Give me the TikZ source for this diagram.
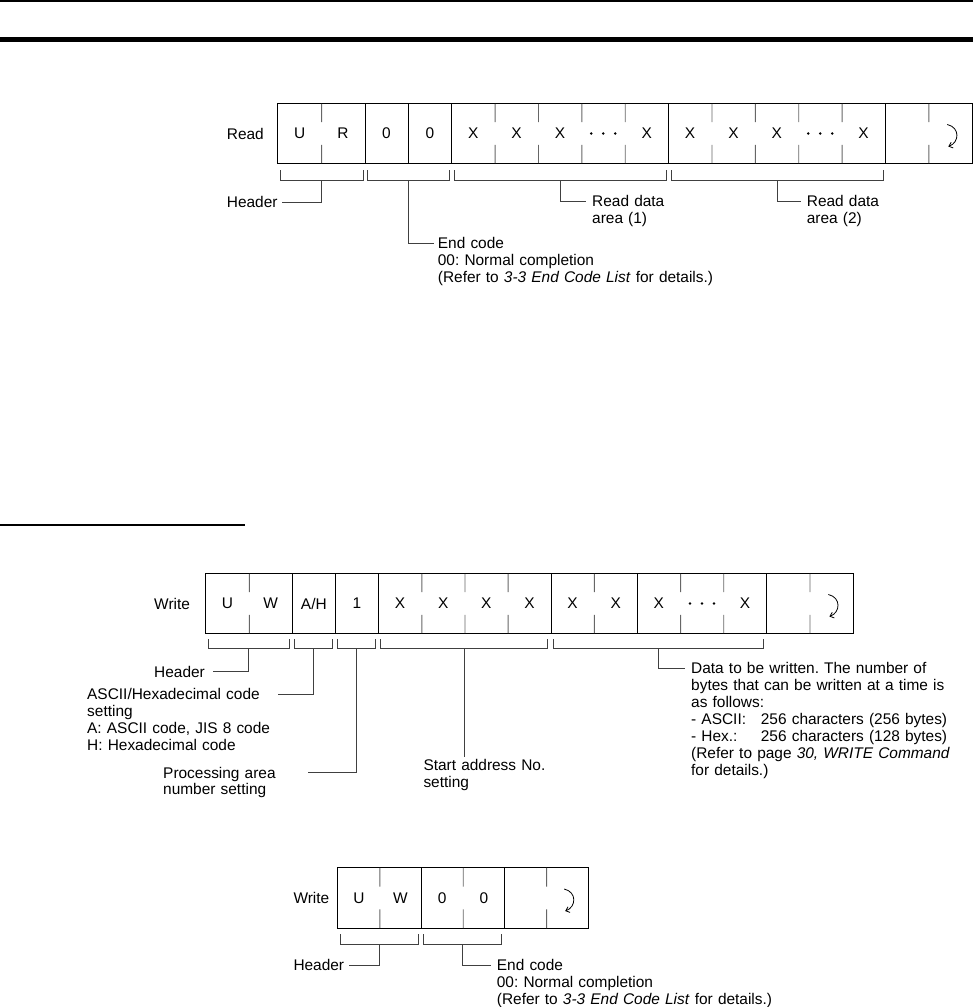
\documentclass[tikz,border=0pt]{standalone}
\usepackage{fontspec}
\setmainfont{Liberation Sans}
\usetikzlibrary{calc,arrows.meta}
\frenchspacing
\newcommand{\mybracket}[7]{%
  % #1 left cell, #2 right cell, #3 mid coordinate name, #4 top offset, #5 bottom offset, #6 left inset, #7 right inset
  \draw[brk] ($(#1.south west)+(#6,#4)$) -- ($(#1.south west)+(#6,#5)$) -- ($(#2.south east)+(-#7,#5)$) -- ($(#2.south east)+(-#7,#4)$);
  \coordinate (#3) at ($($(#1.south west)+(#6,#5)$)!0.5!($(#2.south east)+(-#7,#5)$)$);
}
\newcommand{\celldots}[1]{%
  \fill ($(#1.center)+(-12,0)$) circle (1.4bp);
  \fill (#1.center) circle (1.4bp);
  \fill ($(#1.center)+(12,0)$) circle (1.4bp);
}
\newcommand{\retsym}[1]{%
  \draw[retarrow] ($(#1.center)+(-3,-9)$) .. controls ($(#1.center)+(10,-6)$) and ($(#1.center)+(9,9)$) .. ($(#1.center)+(-2,13)$);
}
\begin{document}
\begin{tikzpicture}[x=1bp,y=-1bp,
  cellr/.style={minimum width=43.375bp,minimum height=59bp,inner sep=0pt,font=\fontsize{15.5}{17}\selectfont},
  cellw/.style={cellr,minimum width=43.13bp},
  cellb/.style={cellr,minimum width=41.67bp,minimum height=60bp},
  frame/.style={draw=black,line width=0.9bp},
  full/.style={draw=black,line width=0.9bp},
  part/.style={draw=black!60,line width=0.9bp},
  brk/.style={draw=black!75,line width=0.8bp},
  lbl/.style={inner sep=0pt,font=\fontsize{15.5}{17}\selectfont},
  blk/.style={lbl,text width=320bp,align=left},
  retarrow/.style={draw=black,line width=0.8bp,-{Straight Barb[length=3.5bp,width=6bp]}}
]
\useasboundingbox (0,0) rectangle (973,1007);

% page rules
\draw[line width=2bp] (0,1) -- (973,1);
\draw[line width=5bp] (0,39) -- (973,39);
\draw[line width=1.2bp] (0,525) -- (245,525);

% ================= READ frame =================
\foreach \t [count=\i] in {U,R,0,0,X,X,X,{},X,X,X,X,{},X,{},{}}
  \node[cellr] (r\i) at ({278+43.375*(\i-0.5)},133.5) {\t};
\draw[frame] (r1.north west) rectangle (r16.south east);
\foreach \i in {2,3,4,9,14}
  \draw[full] (r\i.north east) -- (r\i.south east);
\foreach \i in {1,5,6,7,8,10,11,12,13,15}{
  \draw[part] (r\i.north east) -- ($(r\i.north east)!0.31!(r\i.south east)$);
  \draw[part] ($(r\i.north east)!0.69!(r\i.south east)$) -- (r\i.south east);
}
\celldots{r8}
\celldots{r13}
\retsym{r16}
\node[lbl,anchor=base west] (readlbl) at (226.7,139) {Read};

\mybracket{r1}{r2}{rhb}{7}{17}{3}{2}
\mybracket{r3}{r4}{reb}{7}{17}{3}{2}
\mybracket{r5}{r9}{ra1}{7}{17}{3}{2}
\mybracket{r10}{r14}{ra2}{7}{17}{3}{2}

\node[lbl,anchor=base west] (rhdr) at (226.7,207.5) {Header};
\draw[brk] (rhb) |- ($(rhdr.base east)+(4,-5.5)$);
\node[blk,anchor=base west] (rend) at (437.7,248.5) {End code\\00: Normal completion\\(Refer to \textit{3-3 End Code List} for details.)};
\draw[brk] (reb) |- ($(rend.base west)+(-4,-5.5)$);
\node[blk,anchor=base west] (rda1) at (592,206.5) {Read data\\area (1)};
\draw[brk] (ra1) |- ($(rda1.base west)+(-6,-5.5)$);
\node[blk,anchor=base west] (rda2) at (806.7,206.5) {Read data\\area (2)};
\draw[brk] (ra2) |- ($(rda2.base west)+(-6,-5.5)$);

% ================= WRITE frame =================
\foreach \t [count=\i] in {U,W,A/H,1,X,X,X,X,X,X,X,{},X,{},{}}
  \node[cellw] (w\i) at ({206+43.13*(\i-0.5)},603.5) {\t};
\draw[frame] (w1.north west) rectangle (w15.south east);
\foreach \i in {2,3,4,8,10,13}
  \draw[full] (w\i.north east) -- (w\i.south east);
\foreach \i in {1,5,6,7,9,11,12,14}{
  \draw[part] (w\i.north east) -- ($(w\i.north east)!0.31!(w\i.south east)$);
  \draw[part] ($(w\i.north east)!0.69!(w\i.south east)$) -- (w\i.south east);
}
\celldots{w12}
\retsym{w15}
\node[lbl,anchor=base west] (writelbl) at (154,609) {Write};

\mybracket{w1}{w2}{whb}{6}{15}{2.5}{3.5}
\mybracket{w3}{w3}{wab}{6}{15}{2.5}{3.5}
\mybracket{w4}{w4}{wpb}{6}{15}{2.5}{3.5}
\mybracket{w5}{w8}{wsb}{6}{15}{2.5}{3.5}
\mybracket{w9}{w13}{wdb}{6}{15}{2.5}{3.5}

\node[lbl,anchor=base west] (whdr) at (154,677) {Header};
\draw[brk] (whb) |- ($(whdr.base east)+(8,-5.5)$);
\node[blk,anchor=base west,text width=200bp] (wasc) at (87,699.5) {ASCII/Hexadecimal code\\setting\\A: ASCII code, JIS 8 code\\H: Hexadecimal code};
\coordinate (wascend) at (278,694);
\draw[brk] (wab) |- (wascend);
\node[blk,anchor=base west,text width=150bp] (wproc) at (163,778) {Processing area\\number setting};
\draw[brk] (wpb) |- ($(wproc.base west)+(145,-5.5)$);
\node[blk,anchor=base west,text width=150bp] (wstart) at (423.3,770.5) {Start address No.\\setting};
\draw[brk] (wsb) -- ($(wsb |- wstart.base west)+(0,-14)$);
\node[blk,anchor=base west,text width=280bp] (wdata) at (691,673.5) {Data to be written. The number of\\bytes that can be written at a time is\\as follows:\\\makebox[69.7bp][l]{- ASCII:}256 characters (256 bytes)\\\makebox[69.7bp][l]{- Hex.:}256 characters (128 bytes)\\(Refer to page \textit{30, WRITE Command}\\for details.)};
\draw[brk] (wdb) |- ($(wdata.base west)+(-6,-5.5)$);

% ================= WRITE response frame =================
\foreach \t [count=\i] in {U,W,0,0,{},{}}
  \node[cellb] (b\i) at ({338+41.67*(\i-0.5)},898) {\t};
\draw[frame] (b1.north west) rectangle (b6.south east);
\foreach \i in {2,4}
  \draw[full] (b\i.north east) -- (b\i.south east);
\foreach \i in {1,3,5}{
  \draw[part] (b\i.north east) -- ($(b\i.north east)!0.31!(b\i.south east)$);
  \draw[part] ($(b\i.north east)!0.69!(b\i.south east)$) -- (b\i.south east);
}
\retsym{b6}
\node[lbl,anchor=base west] (bwrite) at (293.3,903.5) {Write};

\mybracket{b1}{b2}{bhb}{6}{16}{2.5}{3.5}
\mybracket{b3}{b4}{beb}{6}{16}{2.5}{3.5}

\node[lbl,anchor=base west] (bhdr) at (293.3,970.8) {Header};
\draw[brk] (bhb) |- ($(bhdr.base east)+(5,-5.5)$);
\node[blk,anchor=base west] (bend) at (496.7,970.8) {End code\\00: Normal completion\\(Refer to \textit{3-3 End Code List} for details.)};
\draw[brk] (beb) |- ($(bend.base west)+(-6,-5.5)$);

\end{tikzpicture}
\end{document}
